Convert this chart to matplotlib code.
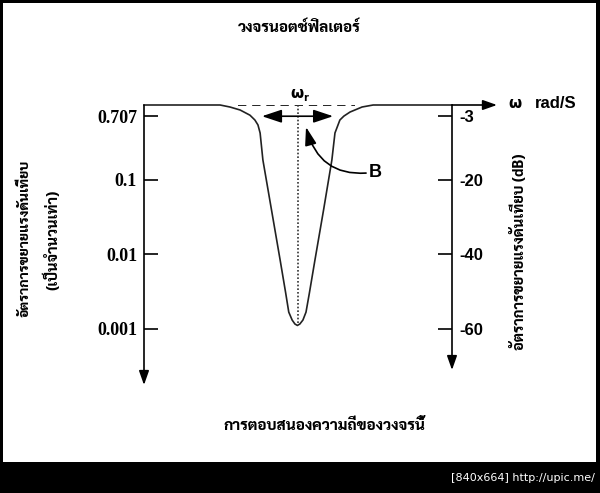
import matplotlib
matplotlib.use("Agg")
import matplotlib.pyplot as plt
from matplotlib.patches import Rectangle
from matplotlib.ticker import NullLocator

# --- data (omega in arbitrary units, gain as a ratio) ---
omega = [0.0, 2.47, 2.79, 3.12, 3.44, 3.60, 3.70, 3.77, 3.86, 4.14, 4.42, 4.60, 4.70, 4.81, 4.90, 4.98,
         5.06, 5.16, 5.26, 5.37, 5.55, 5.83, 6.10, 6.20, 6.36, 6.49, 6.69, 7.08, 7.44, 10.0]
gain = [1.0, 1.0, 0.94, 0.857, 0.73, 0.629, 0.54, 0.421, 0.183, 0.039, 0.0083, 0.0030, 0.00166, 0.0013,
        0.00115, 0.0011, 0.00115, 0.0013, 0.00166, 0.0030, 0.0083, 0.039, 0.183, 0.421, 0.629, 0.71,
        0.805, 0.94, 1.0, 1.0]
gain_ticks = [0.707, 0.1, 0.01, 0.001]
left_labels = ["0.707", "0.1", "0.01", "0.001"]
right_labels = ["-3", "-20", "-40", "-60"]
omega_r = 5.0
bw_lo, bw_hi = 3.83, 6.14

title = "วงจรนอตช์ฟิลเตอร์"
xlabel = "การตอบสนองความถี่ของวงจรนี้"
ylabel_left = "อัตราการขยายแรงดันเทียบ"
ylabel_left2 = "(เป็นจำนวนเท่า)"
ylabel_right = "อัตราการขยายแรงดันเทียบ (dB)"

W, H = 600, 493
def fx(x):
    return x / W
def fy(y):
    return 1 - y / H

fig = plt.figure(figsize=(6, 4.93), dpi=100, facecolor="black")
fig.patches.append(Rectangle((fx(3), fy(462)), fx(593), 459 / H, transform=fig.transFigure,
                             facecolor="white", edgecolor="none", zorder=-1))

ybot = 10 ** -3.758
ax = fig.add_axes([fx(144), fy(385), 308 / W, 280 / H])
ax.set_facecolor("none")
ax.set_yscale("log")
ax.set_xlim(0, 10)
ax.set_ylim(ybot, 1)
for s in ax.spines.values():
    s.set_visible(False)
ax.set_xticks([])
ax.yaxis.set_minor_locator(NullLocator())
ax.set_yticks(gain_ticks)
ax.set_yticklabels(left_labels, fontfamily="Liberation Serif", fontweight="bold", fontsize=13)
ax.tick_params(axis="y", direction="in", length=10, width=1.2, pad=5)

ax2 = ax.twinx()
ax2.set_yscale("log")
ax2.set_ylim(ybot, 1)
for s in ax2.spines.values():
    s.set_visible(False)
ax2.yaxis.set_minor_locator(NullLocator())
ax2.set_yticks(gain_ticks)
ax2.set_yticklabels(right_labels, fontfamily="Liberation Sans", fontweight="bold", fontsize=12)
ax2.tick_params(axis="y", direction="in", length=10, width=1.2, pad=5)

# response curve, reference lines
ax.plot(omega, gain, color="#222222", lw=1.2, clip_on=False)
ax.plot([3.05, 6.85], [1, 1], color="black", lw=1.2, ls=(0, (5, 3.5)))
ax.plot([omega_r, omega_r], [1, 0.0011], color="#333333", lw=1.2, ls=(0, (1, 1.2)))

# axes drawn as arrows
arrow = dict(arrowstyle="-|>,head_length=0.85,head_width=0.3", color="black", lw=1.2,
             shrinkA=0, shrinkB=0, mutation_scale=10)
ax.annotate("", xy=(0, ybot), xytext=(0, 1), arrowprops=arrow, annotation_clip=False)
ax.annotate("", xy=(10, 10 ** -3.557), xytext=(10, 1), arrowprops=arrow, annotation_clip=False)
ax.annotate("", xy=(11.46, 1), xytext=(10, 1), arrowprops=arrow, annotation_clip=False)
ax.annotate("", xy=(bw_lo, 0.707), xytext=(bw_hi, 0.707),
            arrowprops=dict(arrowstyle="<|-|>,head_length=1.2,head_width=0.4", color="black", lw=1.2,
                            shrinkA=0, shrinkB=0, mutation_scale=10), annotation_clip=False)
ax.annotate("B", xy=(5.26, 0.507), xytext=(7.3, 0.126), ha="left", va="center",
            fontsize=13, fontweight="bold", fontfamily="Liberation Sans",
            arrowprops=dict(arrowstyle="-|>,head_length=1.1,head_width=0.35", color="black", lw=1.2,
                            shrinkA=0, shrinkB=0, mutation_scale=10,
                            connectionstyle="arc3,rad=-0.45"), annotation_clip=False)

# texts
thai = ["Sarabun", "DejaVu Sans"]
fig.text(fx(297), fy(93), "ω", ha="center", va="center", fontsize=11, fontweight="bold")
fig.text(fx(306), fy(98), "r", ha="center", va="center", fontsize=7, fontweight="bold")
fig.text(fx(515), fy(103), "ω", ha="center", va="center", fontsize=11, fontweight="bold")
fig.text(fx(535), fy(103), "rad/S", ha="left", va="center", fontsize=12, fontweight="bold",
         fontfamily="Liberation Sans")
fig.text(fx(299), fy(28), title, ha="center", va="center", fontsize=11, fontweight=800, family=thai)
fig.text(fx(324), fy(427), xlabel, ha="center", va="center", fontsize=11, fontweight=800, family=thai)
fig.text(fx(25), fy(238), ylabel_left, ha="center", va="center", rotation=90, fontsize=10,
         fontweight=800, family=thai)
fig.text(fx(53), fy(240), ylabel_left2, ha="center", va="center", rotation=90, fontsize=10.5,
         fontweight=800, family=thai)
fig.text(fx(520), fy(252), ylabel_right, ha="center", va="center", rotation=90, fontsize=10.5,
         fontweight=800, family=thai)

fig.text(fx(595), fy(478), "[840x664] http://upic.me/", ha="right", va="center", color="white", fontsize=8)

fig.savefig("out.png", dpi=100, facecolor=fig.get_facecolor())
